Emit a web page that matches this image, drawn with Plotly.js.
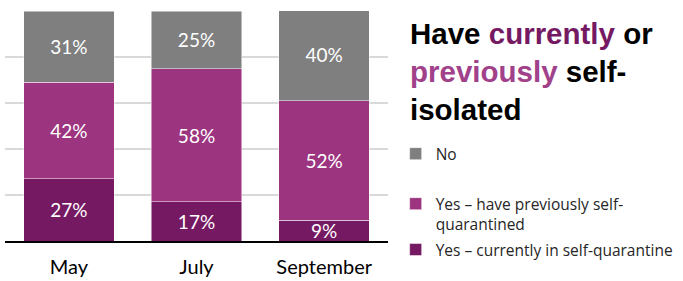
<!DOCTYPE html>
<html>
<head>
<meta charset="utf-8">
<script src="https://cdn.plot.ly/plotly-3.0.1.min.js"></script>
<style>html,body{margin:0;padding:0;background:#fff;}#chart{width:683px;height:281px;}</style>
</head>
<body>
<div id="chart"></div>
<script>
var months = ["May", "July", "September"];
var currentlyIsolating = [27, 17, 9];
var previouslyIsolated = [42, 58, 52];
var notIsolated = [31, 25, 40];
var seriesNames = ["Yes – currently in self-quarantine", "Yes – have previously self-<br>quarantined", "No"];
var seriesColors = ["#761963", "#9C347F", "#7F7F7F"];
var titleText = "Have <span style='color:#761963'>currently</span> or<br><span style='color:#A0418A'>previously</span> self-<br>isolated";

var seriesValues = [currentlyIsolating, previouslyIsolated, notIsolated];
var legendIds = ["legend3", "legend2", "legend"];
var traces = seriesValues.map(function (vals, i) {
  return {
    type: "bar",
    x: months,
    y: vals,
    name: seriesNames[i],
    legend: legendIds[i],
    marker: {color: seriesColors[i], line: {color: "rgba(255,255,255,0.6)", width: 0.8}},
    texttemplate: "%{y}%",
    textposition: "inside",
    insidetextanchor: "middle",
    constraintext: "none",
    textfont: {family: "Lato", size: 19, color: "#ffffff"},
    hoverinfo: "none"
  };
});

var legendBase = {
  xanchor: "left", yanchor: "middle", bgcolor: "rgba(0,0,0,0)", borderwidth: 0,
  font: {family: "Open Sans", size: 15.5, color: "#262626"}, valign: "top", itemclick: false
};
function lg(y) { var o = JSON.parse(JSON.stringify(legendBase)); o.x = 1.02; o.y = y; return o; }

var layout = {
  width: 683, height: 281,
  margin: {l: 5, r: 295, t: 11, b: 40},
  paper_bgcolor: "#ffffff", plot_bgcolor: "#ffffff",
  barmode: "stack",
  bargap: 0.29,
  showlegend: true,
  title: {
    text: titleText,
    x: 410 / 683, xref: "container", xanchor: "left",
    y: 0.845, yref: "container", yanchor: "top",
    font: {family: "Liberation Sans", size: 29.5, color: "#000000", weight: "bold"}
  },
  xaxis: {
    type: "category",
    range: [-0.5, 2.5],
    showline: true, linecolor: "#000000", linewidth: 1.5,
    ticks: "", showgrid: false,
    ticklabelstandoff: 7,
    tickfont: {family: "Lato", size: 20, color: "#000000"},
    fixedrange: true
  },
  yaxis: {
    range: [0, 100], dtick: 20, showticklabels: false,
    showgrid: true, gridcolor: "#D9D9D9", gridwidth: 1.5,
    zeroline: false, fixedrange: true
  },
  legend: lg(0.378),
  legend2: lg(0.117),
  legend3: lg(-0.039),
  uniformtext: {mode: false}
};

Plotly.newPlot("chart", traces, layout, {displayModeBar: false, staticPlot: true});
</script>
</body>
</html>
